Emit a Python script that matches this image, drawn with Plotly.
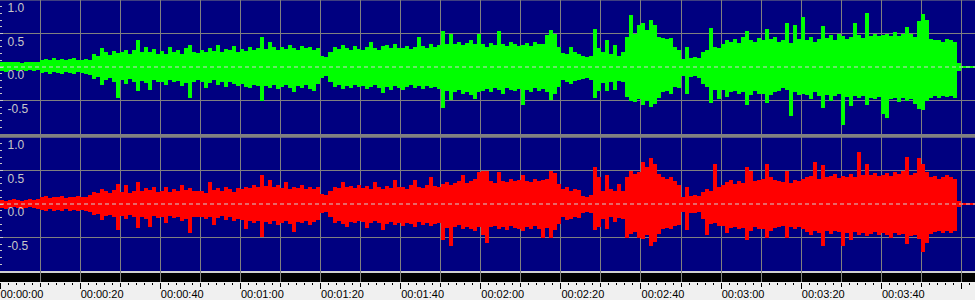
import plotly.graph_objects as go

# ---------------- data ----------------
# one value per second: upper / lower envelope of each channel
seconds = list(range(244))

g_hi = [
0.08,0.07,0.08,0.07,0.08,0.06,0.07,0.07,0.08,0.07,
0.11,0.12,0.10,0.13,0.11,0.12,0.10,0.12,0.13,0.10,
0.10,0.12,0.11,0.20,0.17,0.28,0.22,0.18,0.24,0.21,
0.22,0.26,0.20,0.25,0.40,0.23,0.30,0.22,0.27,0.20,
0.24,0.20,0.30,0.22,0.25,0.19,0.28,0.33,0.22,0.21,
0.26,0.22,0.29,0.24,0.33,0.22,0.27,0.25,0.31,0.23,
0.27,0.24,0.30,0.26,0.29,0.45,0.27,0.38,0.30,0.26,
0.30,0.27,0.33,0.29,0.26,0.32,0.28,0.30,0.26,0.29,
0.17,0.15,0.22,0.30,0.27,0.33,0.28,0.25,0.31,0.27,
0.26,0.30,0.38,0.28,0.25,0.31,0.33,0.28,0.35,0.29,
0.28,0.32,0.27,0.30,0.45,0.31,0.28,0.34,0.30,0.33,
0.53,0.35,0.50,0.34,0.38,0.33,0.36,0.40,0.35,0.50,
0.34,0.30,0.36,0.33,0.53,0.34,0.31,0.38,0.35,0.32,
0.33,0.36,0.31,0.38,0.34,0.35,0.48,0.55,0.50,0.30,
0.21,0.19,0.30,0.22,0.20,0.16,0.15,0.17,0.56,0.28,
0.22,0.41,0.20,0.33,0.17,0.22,0.45,0.78,0.50,0.62,
0.65,0.55,0.70,0.62,0.45,0.44,0.42,0.43,0.30,0.25,
0.12,0.30,0.14,0.15,0.13,0.22,0.25,0.58,0.30,0.28,
0.35,0.40,0.38,0.42,0.36,0.45,0.53,0.40,0.38,0.44,
0.40,0.56,0.42,0.45,0.38,0.40,0.65,0.36,0.63,0.42,
0.75,0.40,0.45,0.38,0.42,0.61,0.44,0.48,0.40,0.50,
0.46,0.42,0.45,0.65,0.48,0.44,0.80,0.46,0.50,0.47,
0.48,0.50,0.46,0.52,0.47,0.50,0.60,0.49,0.45,0.68,
0.79,0.70,0.42,0.40,0.40,0.38,0.42,0.40,0.38,0.06,
0.02,0.015,0.015,0.015]

g_lo = [
-0.06,-0.07,-0.06,-0.05,-0.06,-0.05,-0.06,-0.05,-0.06,-0.05,
-0.09,-0.08,-0.10,-0.08,-0.09,-0.11,-0.08,-0.09,-0.10,-0.08,
-0.09,-0.10,-0.12,-0.18,-0.15,-0.27,-0.20,-0.17,-0.22,-0.46,
-0.20,-0.26,-0.18,-0.22,-0.36,-0.21,-0.24,-0.34,-0.20,-0.22,
-0.22,-0.27,-0.20,-0.23,-0.21,-0.28,-0.24,-0.46,-0.22,-0.20,
-0.22,-0.31,-0.24,-0.20,-0.27,-0.23,-0.30,-0.22,-0.25,-0.28,
-0.26,-0.30,-0.32,-0.27,-0.29,-0.50,-0.28,-0.31,-0.27,-0.33,
-0.30,-0.27,-0.32,-0.38,-0.28,-0.31,-0.27,-0.33,-0.36,-0.26,
-0.16,-0.14,-0.22,-0.30,-0.27,-0.33,-0.28,-0.31,-0.27,-0.30,
-0.28,-0.33,-0.30,-0.27,-0.31,-0.39,-0.30,-0.34,-0.29,-0.32,
-0.34,-0.30,-0.27,-0.32,-0.29,-0.33,-0.28,-0.31,-0.30,-0.33,
-0.61,-0.36,-0.49,-0.38,-0.35,-0.40,-0.37,-0.42,-0.48,-0.38,
-0.36,-0.33,-0.38,-0.32,-0.35,-0.40,-0.31,-0.34,-0.36,-0.33,
-0.56,-0.34,-0.37,-0.32,-0.36,-0.33,-0.38,-0.49,-0.40,-0.30,
-0.20,-0.22,-0.25,-0.21,-0.19,-0.18,-0.17,-0.20,-0.46,-0.36,
-0.24,-0.36,-0.22,-0.35,-0.21,-0.23,-0.45,-0.50,-0.52,-0.48,
-0.56,-0.50,-0.60,-0.55,-0.47,-0.38,-0.36,-0.40,-0.30,-0.32,
-0.13,-0.41,-0.15,-0.14,-0.16,-0.25,-0.30,-0.53,-0.35,-0.48,
-0.34,-0.45,-0.38,-0.36,-0.40,-0.37,-0.57,-0.42,-0.36,-0.40,
-0.40,-0.53,-0.42,-0.38,-0.36,-0.32,-0.35,-0.73,-0.38,-0.42,
-0.40,-0.42,-0.48,-0.38,-0.44,-0.61,-0.42,-0.50,-0.43,-0.41,
-0.87,-0.45,-0.58,-0.44,-0.47,-0.43,-0.56,-0.46,-0.48,-0.45,
-0.70,-0.76,-0.48,-0.46,-0.52,-0.47,-0.50,-0.48,-0.55,-0.63,
-0.64,-0.50,-0.46,-0.44,-0.47,-0.43,-0.45,-0.44,-0.46,-0.06,
-0.02,-0.015,-0.015,-0.015]

r_hi = [
0.06,0.05,0.06,0.07,0.06,0.05,0.06,0.07,0.06,0.07,
0.10,0.12,0.09,0.11,0.10,0.12,0.09,0.11,0.10,0.12,
0.10,0.11,0.13,0.18,0.16,0.23,0.19,0.17,0.21,0.30,
0.18,0.28,0.16,0.20,0.33,0.19,0.24,0.21,0.26,0.18,
0.20,0.26,0.18,0.22,0.19,0.28,0.21,0.24,0.19,0.20,
0.20,0.17,0.33,0.21,0.24,0.19,0.26,0.22,0.18,0.24,
0.22,0.26,0.24,0.28,0.25,0.43,0.27,0.36,0.25,0.29,
0.24,0.33,0.22,0.26,0.24,0.28,0.23,0.26,0.22,0.25,
0.15,0.13,0.20,0.26,0.24,0.33,0.25,0.27,0.24,0.28,
0.24,0.27,0.22,0.33,0.25,0.23,0.27,0.24,0.36,0.26,
0.25,0.23,0.28,0.36,0.26,0.24,0.29,0.40,0.27,0.25,
0.30,0.33,0.28,0.31,0.35,0.43,0.32,0.34,0.38,0.48,
0.50,0.50,0.34,0.31,0.48,0.35,0.33,0.38,0.34,0.36,
0.43,0.35,0.33,0.37,0.34,0.36,0.38,0.50,0.47,0.30,
0.22,0.25,0.20,0.23,0.21,0.12,0.11,0.13,0.55,0.40,
0.20,0.43,0.22,0.19,0.30,0.20,0.40,0.50,0.45,0.48,
0.63,0.55,0.68,0.60,0.45,0.40,0.38,0.40,0.35,0.28,
0.11,0.26,0.12,0.13,0.12,0.18,0.22,0.20,0.60,0.25,
0.28,0.33,0.36,0.30,0.35,0.32,0.55,0.50,0.34,0.36,
0.38,0.60,0.40,0.36,0.35,0.33,0.50,0.32,0.36,0.34,
0.37,0.40,0.42,0.63,0.38,0.58,0.40,0.42,0.45,0.39,
0.42,0.40,0.45,0.41,0.78,0.44,0.60,0.43,0.46,0.42,
0.44,0.46,0.42,0.48,0.45,0.50,0.70,0.44,0.47,0.68,
0.60,0.48,0.40,0.42,0.38,0.40,0.44,0.40,0.38,0.05,
0.02,0.015,0.015,0.015]

r_lo = [
-0.06,-0.07,-0.06,-0.05,-0.06,-0.07,-0.06,-0.05,-0.06,-0.07,
-0.09,-0.11,-0.08,-0.10,-0.09,-0.11,-0.08,-0.10,-0.09,-0.10,
-0.09,-0.10,-0.12,-0.17,-0.15,-0.24,-0.18,-0.16,-0.20,-0.39,
-0.18,-0.22,-0.17,-0.20,-0.36,-0.19,-0.22,-0.34,-0.18,-0.21,
-0.20,-0.28,-0.18,-0.21,-0.19,-0.25,-0.22,-0.43,-0.20,-0.19,
-0.20,-0.22,-0.19,-0.31,-0.21,-0.18,-0.24,-0.20,-0.26,-0.22,
-0.24,-0.38,-0.26,-0.28,-0.25,-0.49,-0.27,-0.30,-0.26,-0.31,
-0.28,-0.25,-0.30,-0.42,-0.27,-0.29,-0.25,-0.31,-0.27,-0.24,
-0.13,-0.12,-0.20,-0.28,-0.26,-0.30,-0.34,-0.27,-0.29,-0.26,
-0.27,-0.36,-0.29,-0.26,-0.28,-0.39,-0.30,-0.27,-0.32,-0.28,
-0.33,-0.28,-0.30,-0.35,-0.27,-0.31,-0.29,-0.33,-0.30,-0.28,
-0.53,-0.36,-0.63,-0.35,-0.32,-0.38,-0.34,-0.37,-0.40,-0.35,
-0.46,-0.58,-0.35,-0.33,-0.37,-0.34,-0.39,-0.33,-0.36,-0.38,
-0.40,-0.35,-0.38,-0.33,-0.37,-0.51,-0.36,-0.50,-0.39,-0.30,
-0.20,-0.24,-0.22,-0.19,-0.21,-0.13,-0.12,-0.14,-0.39,-0.35,
-0.22,-0.38,-0.20,-0.27,-0.21,-0.23,-0.51,-0.45,-0.42,-0.50,
-0.52,-0.46,-0.63,-0.56,-0.45,-0.38,-0.36,-0.38,-0.33,-0.32,
-0.12,-0.39,-0.13,-0.14,-0.12,-0.22,-0.46,-0.30,-0.28,-0.33,
-0.33,-0.43,-0.36,-0.34,-0.38,-0.36,-0.53,-0.40,-0.35,-0.38,
-0.38,-0.51,-0.40,-0.36,-0.35,-0.33,-0.51,-0.34,-0.37,-0.35,
-0.38,-0.42,-0.47,-0.40,-0.43,-0.63,-0.41,-0.45,-0.40,-0.42,
-0.63,-0.44,-0.53,-0.42,-0.46,-0.43,-0.48,-0.45,-0.42,-0.47,
-0.44,-0.46,-0.50,-0.43,-0.47,-0.45,-0.60,-0.48,-0.46,-0.52,
-0.72,-0.58,-0.45,-0.42,-0.40,-0.43,-0.41,-0.44,-0.40,-0.05,
-0.02,-0.015,-0.015,-0.015]

amp_ticks = [1.0, 0.5, 0.0, -0.5]
amp_labels = ["1.0", "0.5", "0.0", "-0.5"]
time_ticks = [0, 20, 40, 60, 80, 100, 120, 140, 160, 180, 200, 220, 240]
time_labels = ["00:00:00", "00:00:20", "00:00:40", "00:01:00", "00:01:20",
               "00:01:40", "00:02:00", "00:02:20", "00:02:40", "00:03:00",
               "00:03:20", "00:03:40", "00:04:00"]

# ---------------- layout constants ----------------
W, H = 975, 300
PX_PER_S = 4.006
XMAX = W / PX_PER_S
NAVY = "#000080"
GRID = "#808080"
LBL = "#c8c8c8"
FONT = "Liberation Sans"

def py(px):  # pixel from top -> paper fraction
    return 1 - px / H

top_dom = [py(134), py(0)]
bot_dom = [py(271), py(137)]
strip_dom = [py(282), py(271)]

fig = go.Figure()
xc = [t + 0.5 for t in seconds]
fig.add_trace(go.Bar(x=xc, y=[h - l for h, l in zip(g_hi, g_lo)], base=g_lo,
                     width=1, marker=dict(color="#00ff00", line=dict(width=0)),
                     xaxis="x", yaxis="y", hoverinfo="skip", showlegend=False))
fig.add_trace(go.Bar(x=xc, y=[h - l for h, l in zip(r_hi, r_lo)], base=r_lo,
                     width=1, marker=dict(color="#ff0000", line=dict(width=0)),
                     xaxis="x2", yaxis="y2", hoverinfo="skip", showlegend=False))
# invisible helper traces so the ruler axes exist
fig.add_trace(go.Scatter(x=[0], y=[0], xaxis="x3", yaxis="y3", mode="markers",
                         marker=dict(opacity=0), hoverinfo="skip", showlegend=False))
fig.add_trace(go.Scatter(x=[0], y=[0], xaxis="x4", yaxis="y3", mode="markers",
                         marker=dict(opacity=0), hoverinfo="skip", showlegend=False))

xcommon = dict(range=[0, XMAX], showticklabels=False, ticks="", zeroline=False,
               showline=False, showgrid=True, gridcolor=GRID, gridwidth=1,
               tickmode="linear", tick0=0, dtick=10, fixedrange=True, automargin=False)
ycommon = dict(range=[-1, 1], showgrid=False, zeroline=False, showline=False,
               tickmode="array", tickvals=amp_ticks, ticktext=amp_labels,
               ticks="inside", ticklen=3, tickcolor=LBL, tickwidth=1,
               ticklabelposition="inside", ticklabelshift=8, ticklabelstandoff=4,
               ticklabeloverflow="allow", automargin=False,
               tickfont=dict(family=FONT, size=12, color=LBL),
               minor=dict(tickmode="linear", tick0=0, dtick=0.1, ticks="inside",
                          ticklen=2, tickcolor=LBL, showgrid=False),
               fixedrange=True)

fig.update_layout(
    template="none",
    width=W, height=H, margin=dict(l=0, r=0, t=0, b=0, pad=0, autoexpand=False),
    paper_bgcolor="#f0f0f0", plot_bgcolor=NAVY,
    barmode="overlay", bargap=0, showlegend=False,
    xaxis=dict(domain=[0, 1], anchor="y", **xcommon),
    xaxis2=dict(domain=[0, 1], anchor="y2", matches="x", **xcommon),
    yaxis=dict(domain=top_dom, anchor="x", **ycommon),
    yaxis2=dict(domain=bot_dom, anchor="x2", **ycommon),
    xaxis3=dict(domain=[0, 1], anchor="y3", range=[0, XMAX], side="bottom",
                tickmode="array", tickvals=time_ticks, ticktext=time_labels,
                ticks="outside", ticklen=6, tickcolor="#000000", tickwidth=1,
                ticklabelshift=22, ticklabelstandoff=-4, automargin=False,
                tickfont=dict(family=FONT, size=11, color="#000000"),
                showgrid=True, gridcolor=GRID, gridwidth=1, zeroline=False, showline=False,
                minor=dict(tickmode="linear", tick0=0, dtick=10, ticks="outside",
                           ticklen=4, tickcolor="#000000", showgrid=True, gridcolor=GRID),
                fixedrange=True),
    xaxis4=dict(domain=[0, 1], anchor="y3", overlaying="x3", range=[0, XMAX], side="bottom",
                tickmode="linear", tick0=0, dtick=2, ticks="outside", ticklen=2,
                tickcolor="#000000", showticklabels=False, showgrid=False, automargin=False,
                zeroline=False, showline=False, fixedrange=True),
    yaxis3=dict(domain=strip_dom, anchor="x3", range=[0, 1], visible=False,
                fixedrange=True, automargin=False),
)

shapes = []
# black ruler strip and light line above it
shapes.append(dict(type="rect", xref="paper", yref="paper", x0=0, x1=1,
                   y0=py(282), y1=py(273), fillcolor="#000000", line=dict(width=0), layer="below"))
shapes.append(dict(type="rect", xref="paper", yref="paper", x0=0, x1=1,
                   y0=py(273), y1=py(271), fillcolor="#d0d0d0", line=dict(width=0), layer="below"))
# separator between channels
shapes.append(dict(type="rect", xref="paper", yref="paper", x0=0, x1=1,
                   y0=py(137.5), y1=py(134), fillcolor="#808080", line=dict(width=0), layer="above"))
for yr, xr in (("y", "x"), ("y2", "x2")):
    for v in (1.0, 0.5, -0.5):
        shapes.append(dict(type="line", xref=xr + " domain", yref=yr, x0=0, x1=1, y0=v, y1=v,
                           line=dict(color=GRID, width=1), layer="below"))
    shapes.append(dict(type="line", xref=xr + " domain", yref=yr, x0=0, x1=1, y0=0, y1=0,
                       line=dict(color="#d0d0d0", width=1, dash="4px,3px"), layer="above"))
fig.update_layout(shapes=shapes)

fig.write_html("out.html")
